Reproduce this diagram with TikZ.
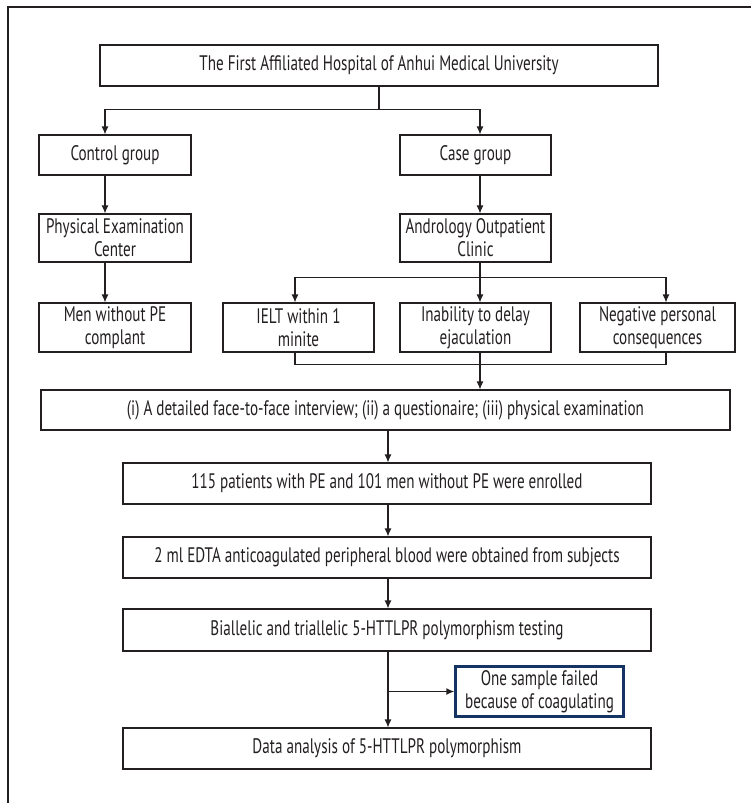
\documentclass[tikz,border=0pt]{standalone}
\usepackage{fontspec}
\setmainfont{PT Sans}[FakeStretch=0.72]
\usetikzlibrary{arrows.meta}
\definecolor{ink}{HTML}{231F20}
\definecolor{navy}{HTML}{163463}
\tikzset{
  box/.style={draw=ink, line width=1.1pt, text=ink, align=center, inner sep=2pt,
    font=\fontsize{21}{23}\selectfont},
  conn/.style={draw=ink, line width=1.1pt},
  arr/.style={conn, -{Latex[length=8pt,width=7pt]}},
}
\begin{document}
\begin{tikzpicture}[x=1pt,y=-1pt]
\useasboundingbox (0,0) rectangle (751,803);
% frame
\coordinate (fa) at (8,803);
\coordinate (fb) at (8,7);
\coordinate (fc) at (751,7);
\draw[conn] (fa) -- (fb) -- (fc);
% columns
\coordinate (colL) at (105,0);
\coordinate (colR) at (480,0);
\coordinate (colA) at (295,0);
\coordinate (colC) at (666,0);
\coordinate (colM) at (388,0);
% nodes
\node[box, minimum width=558, minimum height=41] (top) at (379,65.5) {The First Affiliated Hospital of Anhui Medical University};
\node[box, minimum width=152, minimum height=40] (ctrl) at (115,155) {Control group};
\node[box, minimum width=151, minimum height=40] (case) at (475.5,155) {Case group};
\node[box, minimum width=152, minimum height=48] (phys) at (115,238) {Physical Examination\\Center};
\node[box, minimum width=151, minimum height=48] (andro) at (475.5,238) {Andrology Outpatient\\Clinic};
\node[box, minimum width=152, minimum height=49] (men) at (115,327.5) {Men without PE\\complant};
\node[box, minimum width=151, minimum height=49] (ielt) at (298.5,327.5) {IELT within 1\\minite};
\node[box, minimum width=151, minimum height=49] (inab) at (475.5,327.5) {Inability to delay\\ejaculation};
\node[box, minimum width=155, minimum height=49] (neg) at (657.5,327.5) {Negative personal\\consequences};
\node[box, minimum width=689, minimum height=40] (inter) at (385.5,410) {(i) A detailed face-to-face interview; (ii) a questionaire; (iii) physical examination};
\node[box, minimum width=528, minimum height=41] (p115) at (387,483.5) {115 patients with PE and 101 men without PE were enrolled};
\node[box, minimum width=528, minimum height=41] (blood) at (387,557.5) {2 ml EDTA anticoagulated peripheral blood were obtained from subjects};
\node[box, minimum width=528, minimum height=42] (bial) at (387,630) {Biallelic and triallelic 5-HTTLPR polymorphism testing};
\node[box, draw=navy, line width=2.2pt, minimum width=168, minimum height=50] (fail) at (539.5,691.5) {One sample failed\\because of coagulating};
\node[box, minimum width=528, minimum height=41] (data) at (387,748.5) {Data analysis of 5-HTTLPR polymorphism};
% connectors
\draw[conn] (top.south) -- ++(0,23) coordinate (s1);
\draw[arr] (s1) -| (ctrl.north -| colL);
\draw[arr] (s1) -| (case.north -| colR);
\draw[arr] (ctrl.south -| colL) -- (phys.north -| colL);
\draw[arr] (case.south -| colR) -- (andro.north -| colR);
\draw[arr] (phys.south -| colL) -- (men.north -| colL);
\draw[conn] (andro.south -| colR) -- ++(0,15) coordinate (s2);
\draw[arr] (s2) -| (ielt.north -| colA);
\draw[arr] (s2) -- (inab.north -| colR);
\draw[arr] (s2) -| (neg.north -| colC);
\draw[conn] (ielt.south -| colA) -- ++(0,12) -| (neg.south -| colC);
\draw[arr] (inab.south -| colR) -- (inter.north -| colR);
\draw[arr] (inter.south -| colM) -- (p115.north -| colM);
\draw[arr] (p115.south -| colM) -- (blood.north -| colM);
\draw[arr] (blood.south -| colM) -- (bial.north -| colM);
\draw[arr] (bial.south -| colM) -- (data.north -| colM);
\draw[arr, line width=1.6pt] (fail.west -| colM) -- (fail.west);
\end{tikzpicture}
\end{document}
